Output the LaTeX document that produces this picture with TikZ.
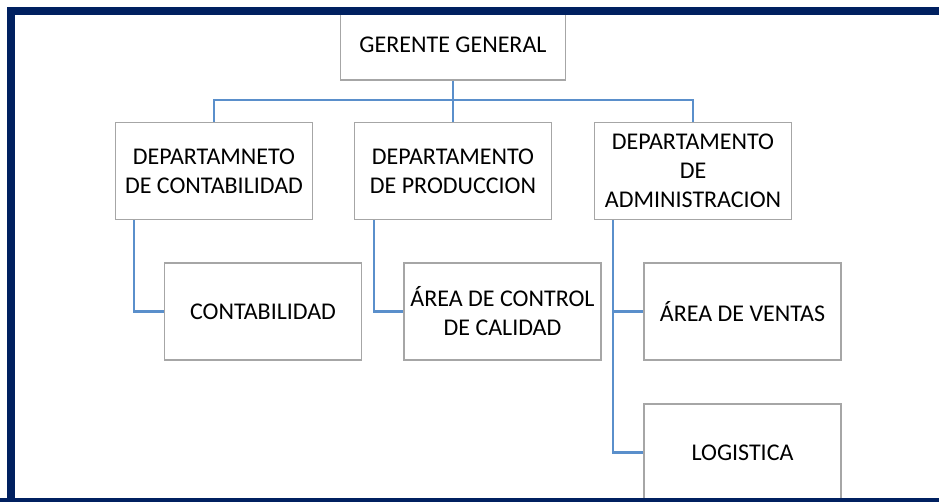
\documentclass[tikz,border=0pt]{standalone}
\usepackage{fontspec}
\setmainfont{Carlito}
\definecolor{navy}{HTML}{002060}
\definecolor{boxgray}{HTML}{A6A6A6}
\definecolor{connblue}{HTML}{5A8FCB}
\tikzset{
  orgbox/.style={draw=boxgray, line width=1.7pt, fill=white, rectangle,
    minimum width=197pt, minimum height=97pt, inner sep=0pt, align=center,
    font=\fontsize{24}{29}\selectfont},
  conn/.style={draw=connblue, line width=2.2pt},
  frameline/.style={draw=navy, line width=8pt}
}
\begin{document}
\begin{tikzpicture}[x=1pt,y=-1pt]
\useasboundingbox (0,0) rectangle (939,502);
\clip (0,0) rectangle (939,502);
% boxes
\node[orgbox, minimum width=225pt, minimum height=70pt] (gg) at (453,45) {GERENTE GENERAL};
\node[orgbox] (d1) at (214,171) {DEPARTAMNETO\\DE CONTABILIDAD};
\node[orgbox] (d2) at (453,171) {DEPARTAMENTO\\DE PRODUCCION};
\node[orgbox] (d3) at (693,171) {DEPARTAMENTO\\DE\\ADMINISTRACION};
\node[orgbox] (c1) at (263,311.5) {CONTABILIDAD};
\node[orgbox] (c2) at (502.5,311.5) {ÁREA DE CONTROL\\DE CALIDAD};
\node[orgbox] (v) at (742.5,311.5) {ÁREA DE VENTAS};
\node[orgbox] (l) at (742.5,452.5) {LOGISTICA};
% connectors
\coordinate (bus) at (453,100);
\draw[conn] (gg.south) -- (d2.north);
\draw[conn] (d1.north) |- (bus) -| (d3.north);
\coordinate (s1) at ([xshift=19pt]d1.south west);
\coordinate (s2) at ([xshift=20pt]d2.south west);
\coordinate (s3) at ([xshift=19pt]d3.south west);
\draw[conn] (s1) |- (c1.west);
\draw[conn] (s2) |- (c2.west);
\draw[conn] (s3) |- (l.west);
\draw[conn] (s3 |- v.west) -- (v.west);
% frame
\draw[frameline] (11,520) -- (11,11) -- (960,11);
\draw[frameline] (0,502) -- (960,502);
\end{tikzpicture}
\end{document}
